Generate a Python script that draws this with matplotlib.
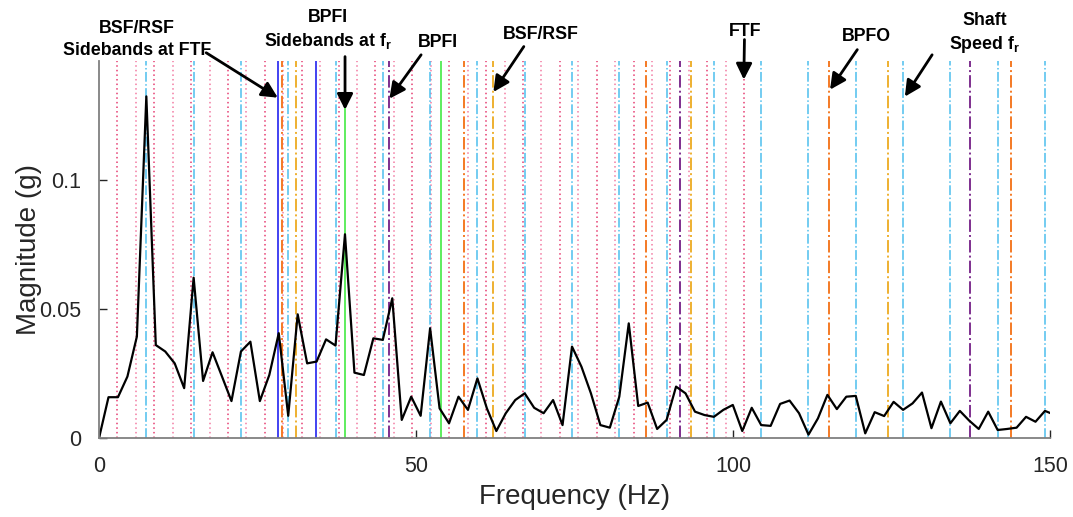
## spectrum with bearing fault frequency markers

import numpy as np
import matplotlib
matplotlib.use('Agg')
import matplotlib.pyplot as plt

plt.rcParams['font.family'] = ['Liberation Sans', 'DejaVu Sans']
plt.rcParams['mathtext.fontset'] = 'custom'
plt.rcParams['mathtext.rm'] = 'Liberation Sans'
plt.rcParams['mathtext.bf'] = 'Liberation Sans:bold'

# spectrum (1.492 Hz bins)
df = 1.492
mag = [0, 0.0158, 0.0158, 0.0238, 0.0393, 0.1323, 0.0360, 0.0335, 0.0289, 0.0193,
       0.0621, 0.0221, 0.0332, 0.0238, 0.0143, 0.0335, 0.0373, 0.0143, 0.0244, 0.0406,
       0.0086, 0.0479, 0.0289, 0.0296, 0.0382, 0.0358, 0.0789, 0.0253, 0.0244, 0.0386,
       0.0380, 0.0541, 0.0070, 0.0160, 0.0086, 0.0425, 0.0115, 0.0057, 0.0160, 0.0109,
       0.0231, 0.0115, 0.0027, 0.0096, 0.0147, 0.0173, 0.0117, 0.0096, 0.0147, 0.0050,
       0.0354, 0.0276, 0.0173, 0.0050, 0.0040, 0.0160, 0.0444, 0.0124, 0.0137, 0.0035,
       0.0070, 0.0199, 0.0173, 0.0102, 0.0089, 0.0082, 0.0109, 0.0128, 0.0027, 0.0117,
       0.0050, 0.0047, 0.0132, 0.0145, 0.0096, 0.0013, 0.0076, 0.0167, 0.0112, 0.0160,
       0.0163, 0.0018, 0.0100, 0.0085, 0.0140, 0.0109, 0.0134, 0.0176, 0.0038, 0.0141,
       0.0057, 0.0105, 0.0067, 0.0035, 0.0102, 0.0031, 0.0035, 0.0040, 0.0082, 0.0063,
       0.0105, 0.0090]
freq = np.arange(len(mag)) * df

# characteristic frequencies (Hz) and harmonic orders
ftf = 2.907
fr = 7.46
bpfo = 28.78
bsf = 31.1
bpfi = 45.8
ftf_orders = range(1, 36)
fr_orders = range(1, 21)
bpfo_orders = range(1, 6)
bsf_orders = range(1, 5)
bpfi_orders = range(1, 4)
bsf_sidebands = [28.25, 34.15]
bpfi_sidebands = [38.8, 53.9]

fig = plt.figure(figsize=(10.73, 5.17), dpi=100)
ax = fig.add_axes([0.0923, 0.1528, 0.8863, 0.7292])

for k in ftf_orders:
    c = '#e63d72' if k % 2 else '#f27aa2'
    ax.axvline(k*ftf, color=c, ls=(0, (1, 2)), lw=1.1)
for k in fr_orders:
    ax.axvline(k*fr, color='#4dbeee', ls='-.', lw=1.1)
for k in bpfo_orders:
    ax.axvline(k*bpfo, color='#f47a25', ls='-.', lw=1.4)
for k in bsf_orders:
    ax.axvline(k*bsf, color='#eeb030', ls='-.', lw=1.4)
for k in bpfi_orders:
    ax.axvline(k*bpfi, color='#7e2f8e', ls='-.', lw=1.4)
for f in bsf_sidebands:
    ax.axvline(f, color='#1010ee', ls='-', lw=1.1)
for f in bpfi_sidebands:
    ax.axvline(f, color='#33e833', ls='-', lw=1.1)

ax.plot(freq, mag, color='k', lw=1.6)

ax.set_xlim(0, 150)
ax.set_ylim(0, 0.146)
ax.set_xticks([0, 50, 100, 150])
ax.set_yticks([0, 0.05, 0.1])
ax.set_yticklabels(['0', '0.05', '0.1'])
ax.tick_params(direction='in', length=6, width=1, colors='#262626', labelsize=15.5, pad=13)
for s in ['top', 'right']:
    ax.spines[s].set_visible(False)
for s in ['left', 'bottom']:
    ax.spines[s].set_color('#808080')
    ax.spines[s].set_linewidth(1.3)
ax.set_xlabel('Frequency (Hz)', fontsize=20, color='#262626', labelpad=5)
ax.set_ylabel('Magnitude (g)', fontsize=20, color='#262626', labelpad=-2)

arrow = dict(arrowstyle='-|>', color='k', lw=2, mutation_scale=24, shrinkA=0, shrinkB=0)
notes = [
    ('BSF/RSF\nSidebands at FTF', (28.2, 0.1318), (16.9, 0.1492), (6.0, 0.1544)),
    ('BPFI\nSidebands at f$_\\mathbf{r}$', (38.8, 0.1271), (38.8, 0.1477), (36.1, 0.1580)),
    ('BPFI', (45.8, 0.1314), (50.8, 0.1484), (53.5, 0.1531)),
    ('BSF/RSF', (62.2, 0.1340), (67.0, 0.1516), (69.7, 0.1562)),
    ('FTF', (101.7, 0.1388), (101.8, 0.1543), (101.9, 0.1574)),
    ('BPFO', (115.3, 0.1349), (119.6, 0.1504), (121.0, 0.1554)),
    ('Shaft\nSpeed f$_\\mathbf{r}$', (127.1, 0.1322), (131.4, 0.1484), (139.7, 0.1566)),
]
for txt, tip, tail, pos in notes:
    ax.annotate('', xy=tip, xytext=tail, arrowprops=arrow, annotation_clip=False)
    ax.text(pos[0], pos[1], txt, ha='center', va='center', fontsize=12.8,
            fontweight='bold', linespacing=1.35, clip_on=False)

plt.savefig('out.png', dpi=100)
